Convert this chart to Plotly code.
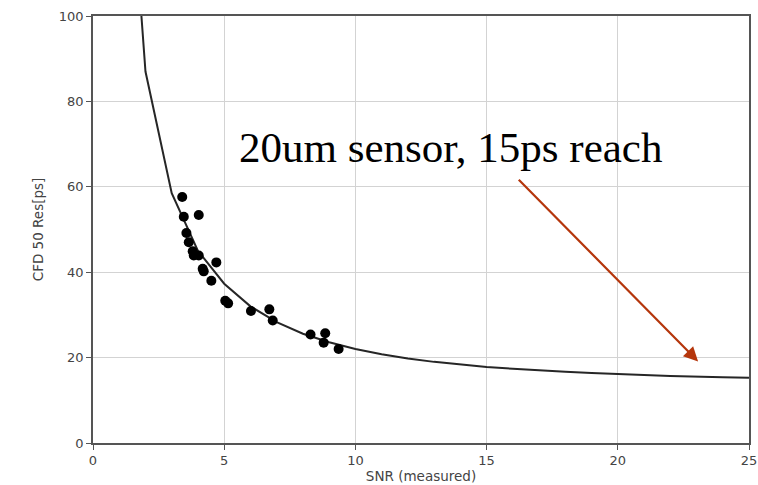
import plotly.graph_objects as go

# Measured CFD-50 time resolution vs. measured SNR
snr_meas = [3.40, 3.46, 4.03, 3.56, 3.65, 3.80, 3.84, 4.03, 4.70, 4.18, 4.22,
            4.51, 5.04, 5.15, 6.02, 6.72, 6.85, 8.29, 8.85, 8.79, 9.36]
res_meas = [57.6, 53.0, 53.4, 49.2, 47.0, 44.9, 43.9, 43.9, 42.3, 40.8, 40.2,
            38.0, 33.3, 32.7, 30.9, 31.3, 28.7, 25.4, 25.7, 23.5, 22.0]

# Expected resolution curve, sampled at integer SNR
snr_curve = list(range(1, 26))
res_curve = [171.0, 87.0, 58.5, 45.0, 37.3, 32.0, 28.3, 25.6, 23.6, 22.0,
             20.8, 19.8, 19.0, 18.4, 17.8, 17.4, 17.0, 16.7, 16.4, 16.1,
             15.9, 15.7, 15.5, 15.4, 15.3]

x_ticks = [0, 5, 10, 15, 20, 25]
y_ticks = [0, 20, 40, 60, 80, 100]

fig = go.Figure()
fig.add_trace(go.Scatter(
    x=snr_curve, y=res_curve, mode="lines",
    line=dict(color="#262626", width=2), showlegend=False,
))
fig.add_trace(go.Scatter(
    x=snr_meas, y=res_meas, mode="markers",
    marker=dict(color="black", size=10), showlegend=False,
))

axis_common = dict(
    showgrid=True, gridcolor="#d3d3d3", gridwidth=1,
    showline=True, linecolor="#555555", linewidth=1.5, mirror=True,
    ticks="outside", ticklen=5, tickcolor="#555555", tickwidth=1,
    tickfont=dict(family="DejaVu Sans", size=13, color="#444444"),
    zeroline=False, automargin=False,
)

fig.update_layout(
    width=758, height=485,
    margin=dict(l=93, r=9, t=16, b=42),
    paper_bgcolor="white", plot_bgcolor="white",
    xaxis=dict(range=[0, 25], tickvals=x_ticks,
               title=dict(text="SNR (measured)", standoff=4,
                          font=dict(family="DejaVu Sans", size=13.5, color="#444444")),
               **axis_common),
    yaxis=dict(range=[0, 100], tickvals=y_ticks,
               title=dict(text="CFD 50 Res[ps]", standoff=12,
                          font=dict(family="DejaVu Sans", size=13.5, color="#444444")),
               **axis_common),
    annotations=[
        dict(x=5.5, y=69.3, xref="x", yref="y", xanchor="left", yanchor="middle",
             text="20um sensor, 15ps reach", showarrow=False,
             font=dict(family="Liberation Serif", size=43, color="black")),
        dict(x=23.06, y=19.1, ax=16.17, ay=62.0, xref="x", yref="y",
             axref="x", ayref="y", text="", showarrow=True,
             arrowhead=2, arrowsize=1.3, arrowwidth=2.2, arrowcolor="#b5360c"),
    ],
)

fig.write_html("out.html")
